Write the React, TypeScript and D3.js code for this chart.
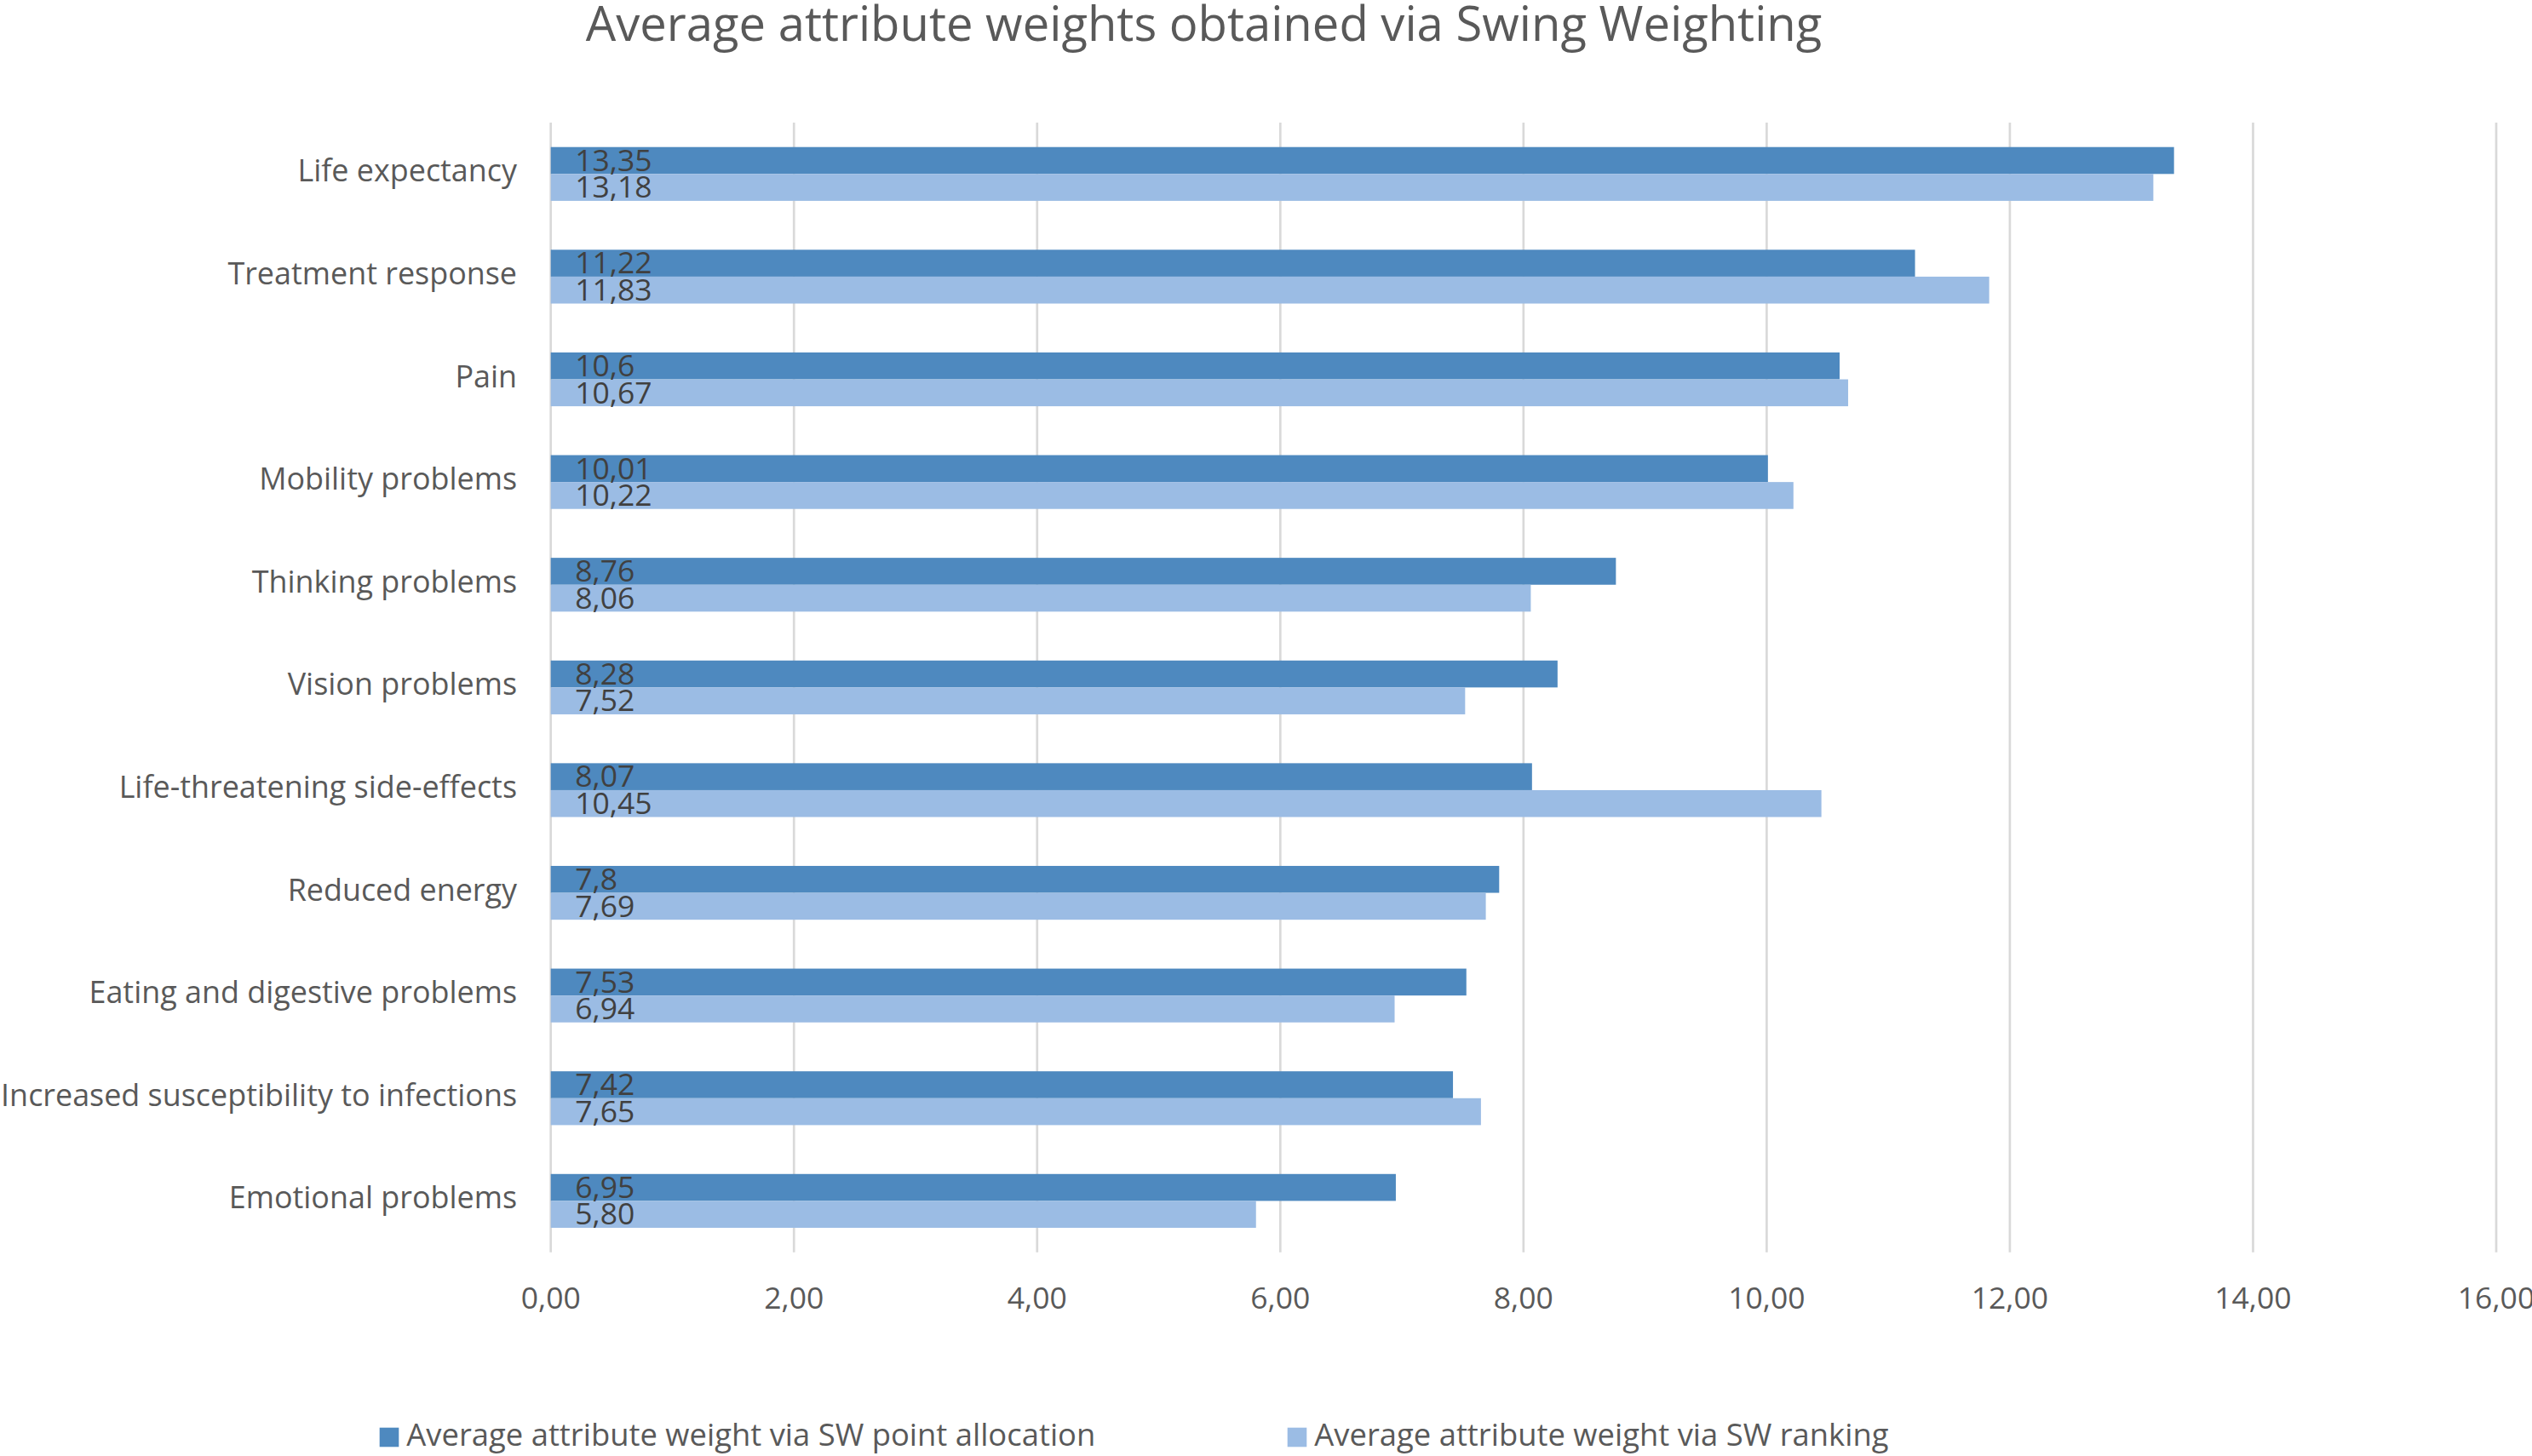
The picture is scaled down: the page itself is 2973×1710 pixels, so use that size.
import React from "react";
import * as d3 from "d3";

const categories: string[] = [
  "Life expectancy",
  "Treatment response",
  "Pain",
  "Mobility problems",
  "Thinking problems",
  "Vision problems",
  "Life-threatening side-effects",
  "Reduced energy",
  "Eating and digestive problems",
  "Increased susceptibility to infections",
  "Emotional problems",
];

const pointAllocation: number[] = [13.35, 11.22, 10.6, 10.01, 8.76, 8.28, 8.07, 7.8, 7.53, 7.42, 6.95];
const ranking: number[] = [13.18, 11.83, 10.67, 10.22, 8.06, 7.52, 10.45, 7.69, 6.94, 7.65, 5.8];

const seriesNames: string[] = [
  "Average attribute weight via SW point allocation",
  "Average attribute weight via SW ranking",
];

const xTicks: number[] = [0, 2, 4, 6, 8, 10, 12, 14, 16];

const title = "Average attribute weights obtained via Swing Weighting";

const W = 2973;
const H = 1710;
const FONT = "'Open Sans', 'Noto Sans', sans-serif";
const TEXT = "#595959";
const LABEL = "#404040";
const DARK = "#4E89BF";
const LIGHT = "#9BBCE4";
const GRID = "#D9D9D9";

const comma = (s: string) => s.replace(".", ",");
const fmtGeneral = (v: number) => comma(String(+v.toFixed(2)));
const fmtFixed2 = (v: number) => comma(v.toFixed(2));

export default function App() {
  const x = d3.scaleLinear().domain([0, 16]).range([646.7, 2931]);
  const y = d3.scaleBand<string>().domain(categories).range([144, 1470.7]).padding(0);
  const barH = 31.6;

  const rows = categories.map((c, i) => ({
    c,
    a: pointAllocation[i],
    b: ranking[i],
  }));

  return (
    <svg
      width={W}
      height={H}
      viewBox={`0 0 ${W} ${H}`}
      style={{ position: "absolute", left: 0, top: 0, background: "#fff" }}
      fontFamily={FONT}
    >
      <rect x={0} y={0} width={W} height={H} fill="#fff" />
      <text x={1413.5} y={48} textAnchor="middle" fontSize={56.2} fill={TEXT}>
        {title}
      </text>

      {xTicks.map((t) => (
        <line
          key={"g" + t}
          x1={x(t)}
          x2={x(t)}
          y1={144}
          y2={1470.7}
          stroke={GRID}
          strokeWidth={2.7}
        />
      ))}

      {rows.map((r) => {
        const cy = (y(r.c) as number) + y.bandwidth() / 2;
        return (
          <g key={r.c}>
            <rect x={x(0)} y={cy - barH} width={x(r.a) - x(0)} height={barH} fill={DARK} />
            <rect x={x(0)} y={cy} width={x(r.b) - x(0)} height={barH} fill={LIGHT} />
            <text x={x(0) + 28.5} y={cy - 3.5} fontSize={35.5} fill={LABEL}>
              {fmtGeneral(r.a)}
            </text>
            <text x={x(0) + 28.5} y={cy + barH - 3.5} fontSize={35.5} fill={LABEL}>
              {fmtFixed2(r.b)}
            </text>
            <text x={607} y={cy + 9} textAnchor="end" fontSize={35.9} fill={TEXT}>
              {r.c}
            </text>
          </g>
        );
      })}

      {xTicks.map((t) => (
        <text key={"t" + t} x={x(t)} y={1537} textAnchor="middle" fontSize={35.5} fill={TEXT}>
          {fmtFixed2(t)}
        </text>
      ))}

      {seriesNames.map((n, i) => {
        const lx = [445.7, 1511.7][i];
        return (
          <g key={n}>
            <rect x={lx} y={1676.7} width={22.6} height={22.6} fill={i === 0 ? DARK : LIGHT} />
            <text x={lx + 31.6} y={1698.3} fontSize={36.4} fill={TEXT}>
              {n}
            </text>
          </g>
        );
      })}
    </svg>
  );
}
